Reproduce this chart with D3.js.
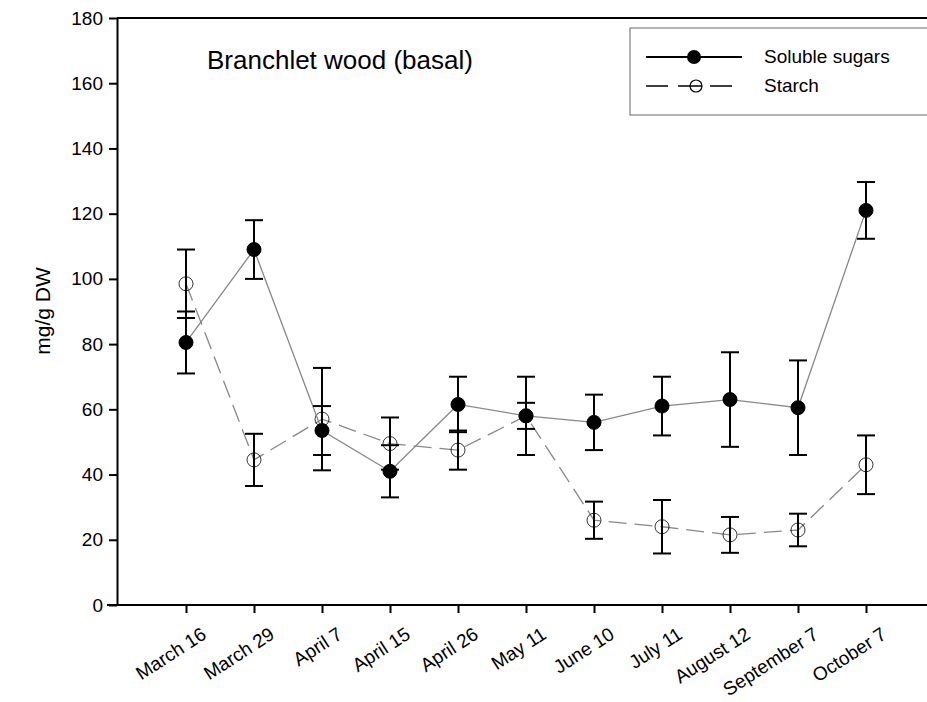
<!DOCTYPE html>
<html><head><meta charset="utf-8">
<script src="https://cdn.jsdelivr.net/npm/d3@7"></script>
<style>body{margin:0;background:#fff}svg text{font-family:Arial,"Liberation Sans",sans-serif}</style>
</head><body>
<script>
var dates = ['March 16','March 29','April 7','April 15','April 26','May 11','June 10','July 11','August 12','September 7','October 7'];
var sugars = [80.5,109,53.5,41,61.5,58,56,61,63,60.5,121];
var sugarsErr = [9.5,9,7.5,8,8.5,12,8.5,9,14.5,14.5,8.7];
var starch = [98.5,44.5,57,49.5,47.5,58,26,24,21.5,23,43];
var starchErr = [10.5,8,15.7,8,6,4,5.7,8.2,5.5,5,9];
var yTicks = d3.range(0,181,20);

var svg = d3.select('body').append('svg').attr('width',927).attr('height',702);
var x = d3.scalePoint().domain(dates).range([186,866]);
var y = d3.scaleLinear().domain([0,180]).range([605,18]);

svg.append('line').attr('x1',117).attr('x2',927).attr('y1',18).attr('y2',18).attr('stroke','#000').attr('stroke-width',2);

var ya = svg.append('g').attr('transform','translate(117,0)')
	.call(d3.axisLeft(y).tickValues(yTicks).tickSize(8).tickSizeOuter(0));
ya.attr('font-size',null);
ya.select('.domain').attr('stroke-width',2);
ya.selectAll('line').attr('stroke-width',2);
ya.selectAll('text').style('font-size','19px').attr('dx','-3');

var xa = svg.append('g').attr('transform','translate(0,605)')
	.call(d3.axisBottom(x).tickSize(8).tickSizeOuter(0));
xa.attr('font-size',null);
xa.select('.domain').attr('d','M107,0H927').attr('stroke-width',2);
xa.selectAll('line').attr('stroke-width',2);
xa.selectAll('text').style('font-size','19px').attr('text-anchor','end')
	.attr('transform','translate(8,12) rotate(-33)').attr('dy','0.7em');

svg.append('text').attr('transform','translate(50,311) rotate(-90)').attr('text-anchor','middle')
	.style('font-size','21px').text('mg/g DW');
svg.append('text').attr('x',207).attr('y',69).style('font-size','26px').text('Branchlet wood (basal)');

function series(vals, errs, dash, fill){
	svg.append('path').datum(vals)
		.attr('d', d3.line().x(function(d,i){return x(dates[i])}).y(function(d){return y(d)}))
		.attr('fill','none').attr('stroke','#888').attr('stroke-width',1.3).attr('stroke-dasharray',dash);
	var g = svg.append('g').selectAll('g').data(vals).enter().append('g');
	g.append('line').attr('x1',function(d,i){return x(dates[i])}).attr('x2',function(d,i){return x(dates[i])})
		.attr('y1',function(d,i){return y(d-errs[i])}).attr('y2',function(d,i){return y(d+errs[i])})
		.attr('stroke','#000').attr('stroke-width',2);
	[-1,1].forEach(function(s){
		g.append('line').attr('x1',function(d,i){return x(dates[i])-9}).attr('x2',function(d,i){return x(dates[i])+9})
			.attr('y1',function(d,i){return y(d+s*errs[i])}).attr('y2',function(d,i){return y(d+s*errs[i])})
			.attr('stroke','#000').attr('stroke-width',2);
	});
	g.append('circle').attr('cx',function(d,i){return x(dates[i])}).attr('cy',function(d){return y(d)})
		.attr('r',7).attr('fill',fill?'#000':'none').attr('stroke','#000').attr('stroke-width',fill?1:0.8);
}
series(starch, starchErr, '18,8', false);
series(sugars, sugarsErr, null, true);

var lg = svg.append('g');
lg.append('rect').attr('x',630).attr('y',28).attr('width',310).attr('height',87).attr('fill','#fff').attr('stroke','#666').attr('stroke-width',1);
lg.append('line').attr('x1',646).attr('x2',742).attr('y1',57).attr('y2',57).attr('stroke','#000').attr('stroke-width',2);
lg.append('circle').attr('cx',694).attr('cy',57).attr('r',7).attr('fill','#000');
lg.append('line').attr('x1',646).attr('x2',732).attr('y1',86).attr('y2',86).attr('stroke','#000').attr('stroke-width',1.5).attr('stroke-dasharray','22,10,22,10,22');
lg.append('circle').attr('cx',696).attr('cy',86).attr('r',6).attr('fill','#fff').attr('stroke','#000').attr('stroke-width',1.2);
lg.append('line').attr('x1',690).attr('x2',702).attr('y1',86).attr('y2',86).attr('stroke','#000').attr('stroke-width',1.5);
lg.append('text').attr('x',764).attr('y',63).style('font-size','19px').text('Soluble sugars');
lg.append('text').attr('x',764).attr('y',92).style('font-size','19px').text('Starch');
</script>
</body></html>
